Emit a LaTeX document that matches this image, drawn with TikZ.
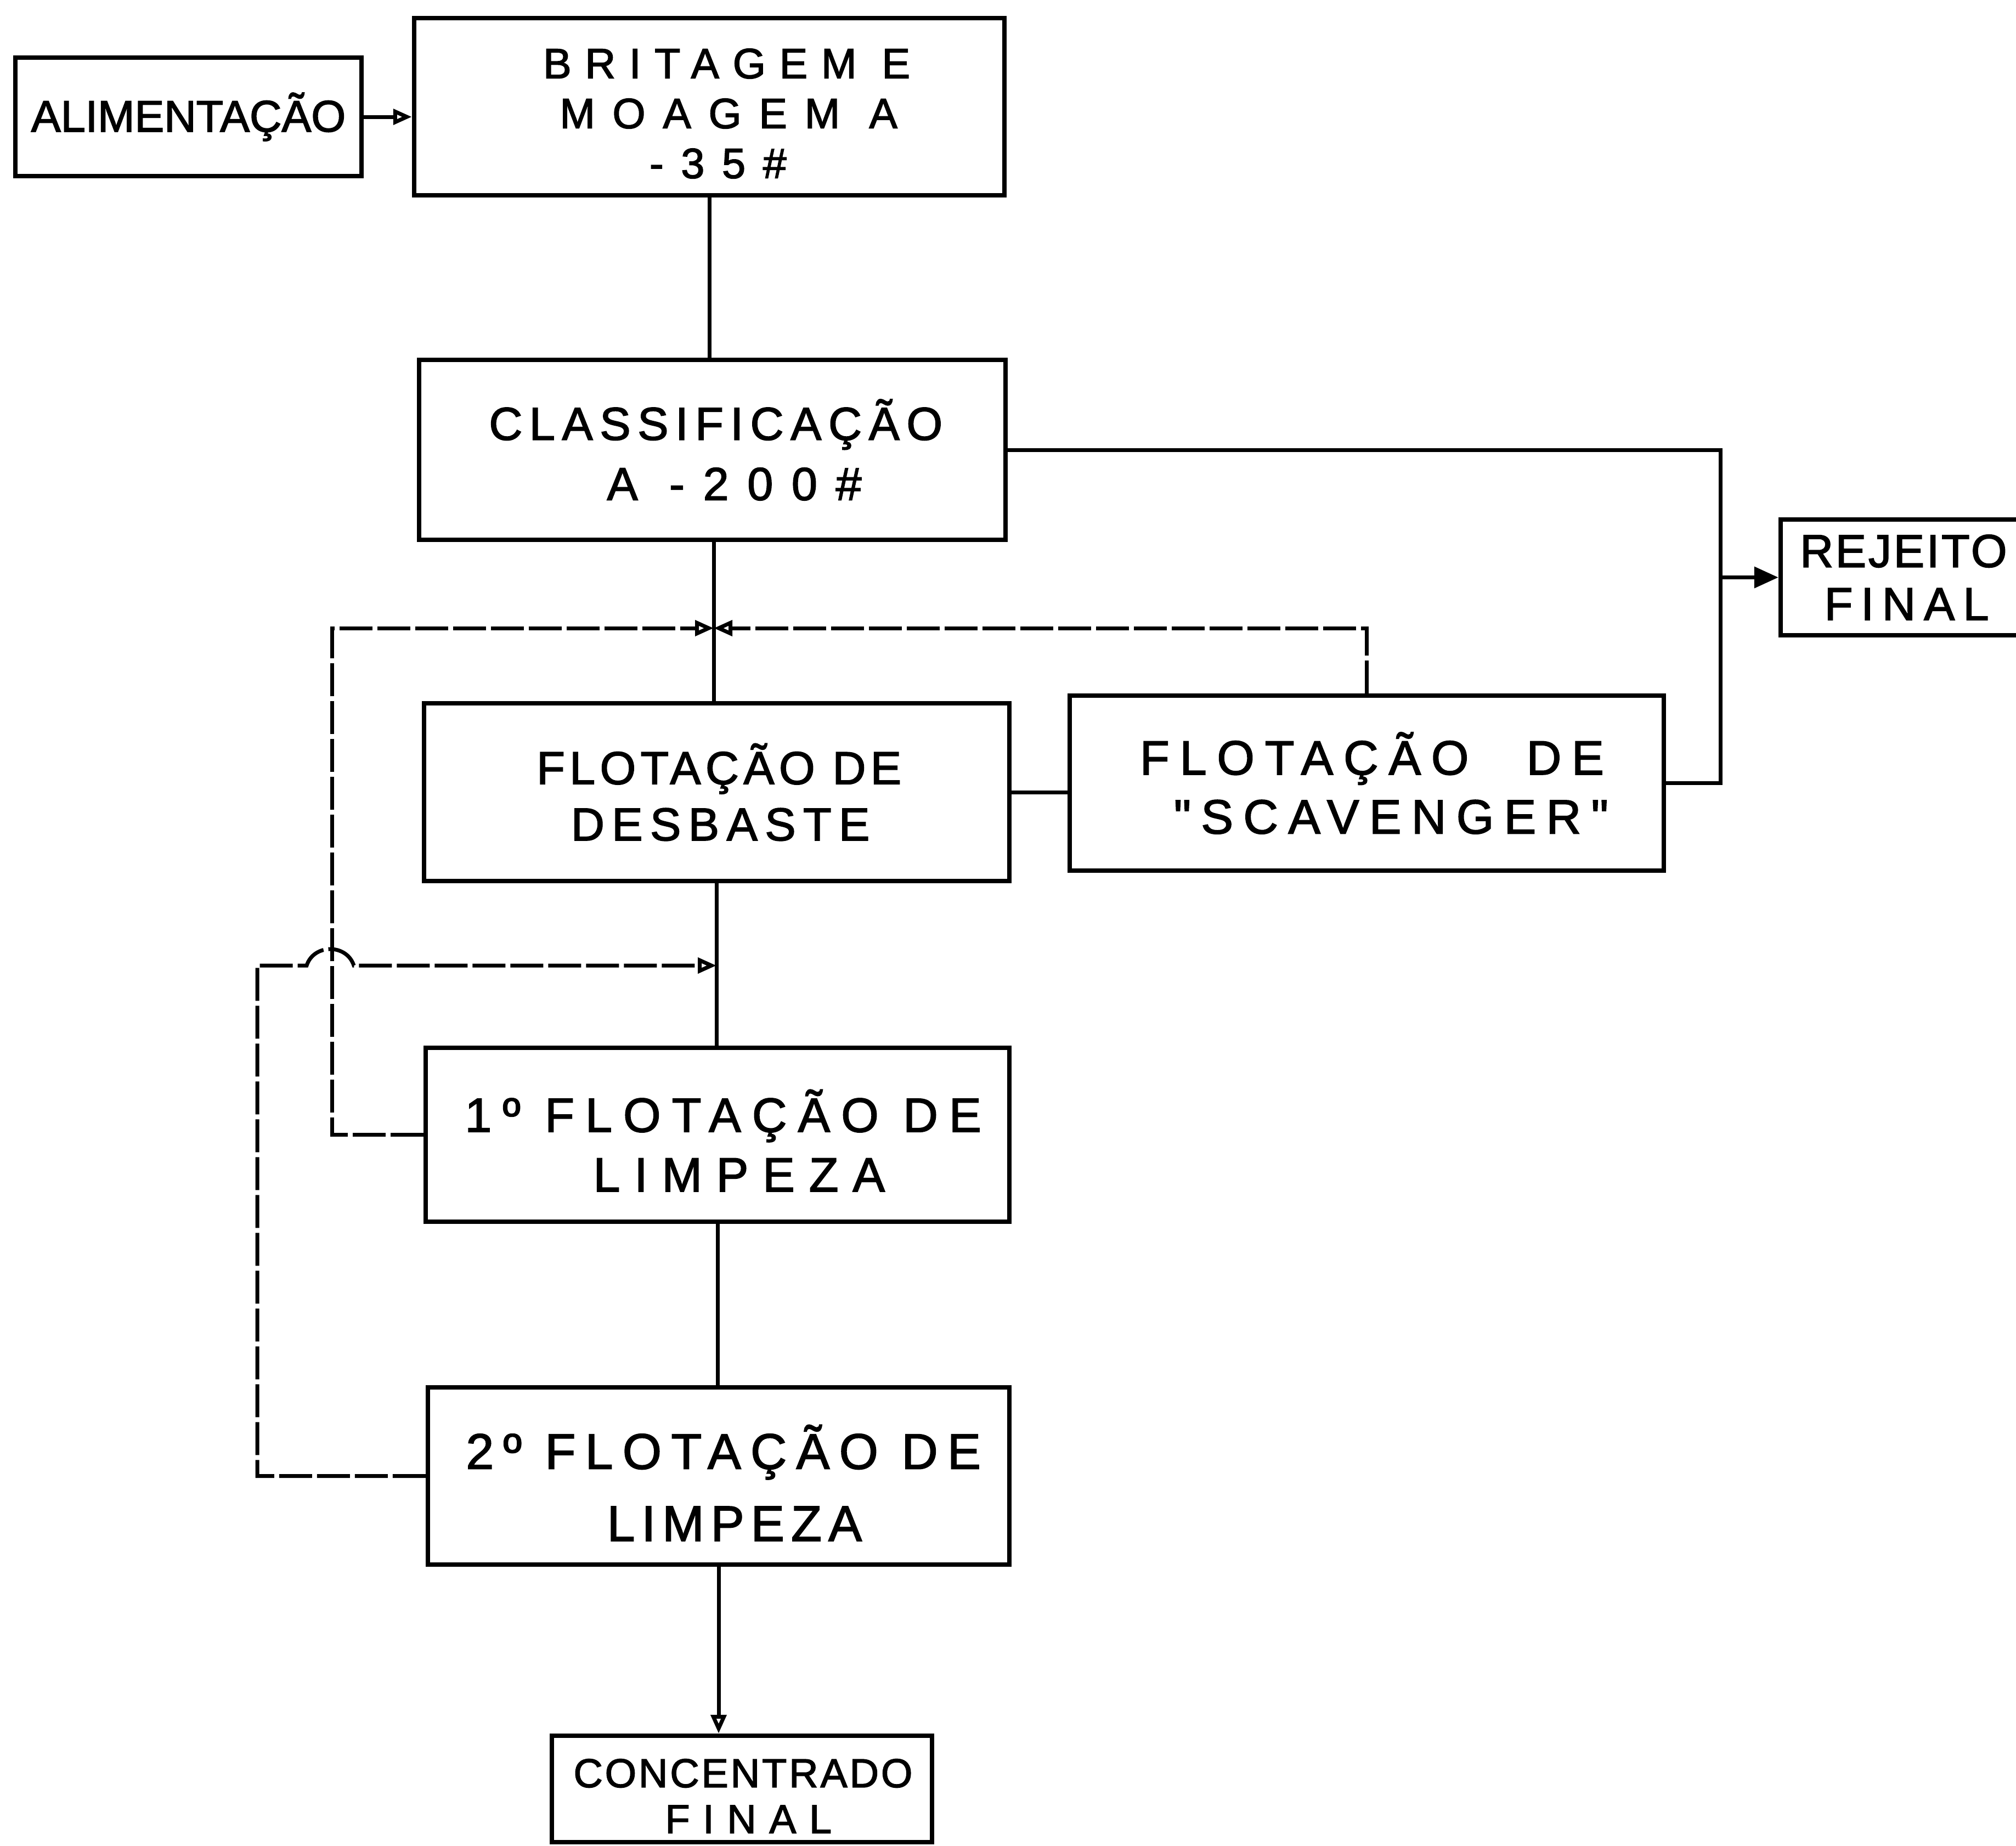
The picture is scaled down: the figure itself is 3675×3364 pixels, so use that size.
\documentclass[tikz,border=0pt]{standalone}
\usepackage{fontspec}
\setmainfont{Liberation Sans}
\newfontfamily\lsf{Liberation Sans}[FakeBold=2]
\usetikzlibrary{arrows.meta}
\newcommand\LSp[2]{{\addfontfeature{LetterSpace=#1}\kern\dimexpr #1em/100\relax #2}}
\newcommand\fsz[2]{\lsf\fontsize{#1}{#2}\selectfont}
\newcommand\tallfirst[1]{\rule{0pt}{#1}}
\tikzset{
  box/.style={draw, line width=0.85mm, rectangle, inner sep=0pt, align=center},
  conn/.style={line width=0.7mm},
  loopline/.style={conn, dash pattern=on 6mm off 0.9mm},
  otip/.style={-{Triangle[open,length=3.4mm,width=2.8mm]}},
  ftip/.style={-{Triangle[length=4.4mm,width=3.8mm]}},
}
\begin{document}
\begin{tikzpicture}[x=0.1mm,y=-0.1mm]
\useasboundingbox (0,0) rectangle (3675,3364);

\node[box, minimum width=63.1mm, minimum height=21.6mm, font=\fsz{23}{27}] (alim) at (343.5,213) {ALIMENTAÇÃO};

\node[box, minimum width=107.6mm, minimum height=32.3mm, font=\fsz{22}{25.9}] (brit) at (1293,194.5)
  {\tallfirst{22.5pt}\hspace*{0.5em}\LSp{32}{BRITAGEM E}\\\hspace*{0.5em}\LSp{41}{MOAGEM A}\\\LSp{41}{-35\#}};

\node[box, minimum width=106.9mm, minimum height=32.8mm, font=\fsz{24}{31.2}] (class) at (1298.5,820)
  {\LSp{15}{CLASSIFICAÇÃO}\\\hspace*{0.55em}\LSp{40}{A -200\#}};

\node[box, minimum width=106.7mm, minimum height=32.4mm, font=\fsz{24}{29.2}] (desb) at (1306.5,1444)
  {\LSp{10}{FLOTAÇÃO DE}\\\LSp{16}{DESBASTE}};

\node[box, minimum width=108.3mm, minimum height=31.9mm, font=\fsz{25}{30.6}] (scav) at (2491.5,1427.5)
  {\LSp{21.5}{FLOTAÇÃO\hspace{1.2em}DE}\\\hspace*{0.8em}\LSp{21}{"SCAVENGER"}};

\node[box, minimum width=44.4mm, minimum height=21.1mm, font=\fsz{24}{27.5}] (rej) at (3468,1052.5)
  {\LSp{4.5}{REJEITO}\\\LSp{18}{FINAL}};

\node[box, minimum width=106.4mm, minimum height=31.7mm, font=\fsz{25}{30.9}] (lim1) at (1308,2068.5)
  {\tallfirst{27.9pt}\LSp{23}{1º FLOTAÇÃO DE}\\\hspace*{0.6em}\LSp{29.5}{LIMPEZA}};

\node[box, minimum width=106mm, minimum height=32.3mm, font=\fsz{26}{37.4}] (lim2) at (1310,2690.5)
  {\tallfirst{30pt}\LSp{19}{2º FLOTAÇÃO DE}\\\hspace*{0.5em}\LSp{13.4}{LIMPEZA}};

\node[box, minimum width=69.3mm, minimum height=19.4mm, font=\fsz{21}{23.8}] (conc) at (1352.5,3261)
  {\tallfirst{22pt}\LSp{5.4}{CONCENTRADO}\\\LSp{32}{FINAL}};

\coordinate (jn) at (1301,1145);
\coordinate (jl) at (605,1145);
\coordinate (j2) at (1306,1760);
\coordinate (cl2) at (469,1760);
\coordinate (rx) at (3136,1055);
\coordinate (hA) at (559,1760);
\coordinate (hB) at (645,1760);

\draw[conn, otip] (alim.east) -- (alim.east -| brit.west);
\draw[conn] (brit.south) -- (brit.south |- class.north);
\draw[conn] (class.south -| jn) -- (jn |- desb.north);
\draw[loopline, otip] (scav.north) -- (scav.north |- jn) -- (jn);
\draw[loopline, otip] (lim1.west) -- (lim1.west -| jl) -- (jl) -- (jn);
\draw[conn] (desb.east) -- (desb.east -| scav.west);
\draw[conn] (class.east) -- (class.east -| rx) -- (scav.east -| rx) -- (scav.east);
\draw[conn, ftip] (rx |- rej.west) -- (rej.west);
\draw[conn] (desb.south) -- (desb.south |- lim1.north);
\draw[loopline, otip] (lim2.west) -- (lim2.west -| cl2) -- (cl2) -- (hA)
  .. controls +(13,-40) and +(-13,-40) .. (hB) -- (j2);
\draw[conn] (lim1.south) -- (lim1.south |- lim2.north);
\draw[conn, otip] (lim2.south) -- (lim2.south |- conc.north);
\end{tikzpicture}
\end{document}
